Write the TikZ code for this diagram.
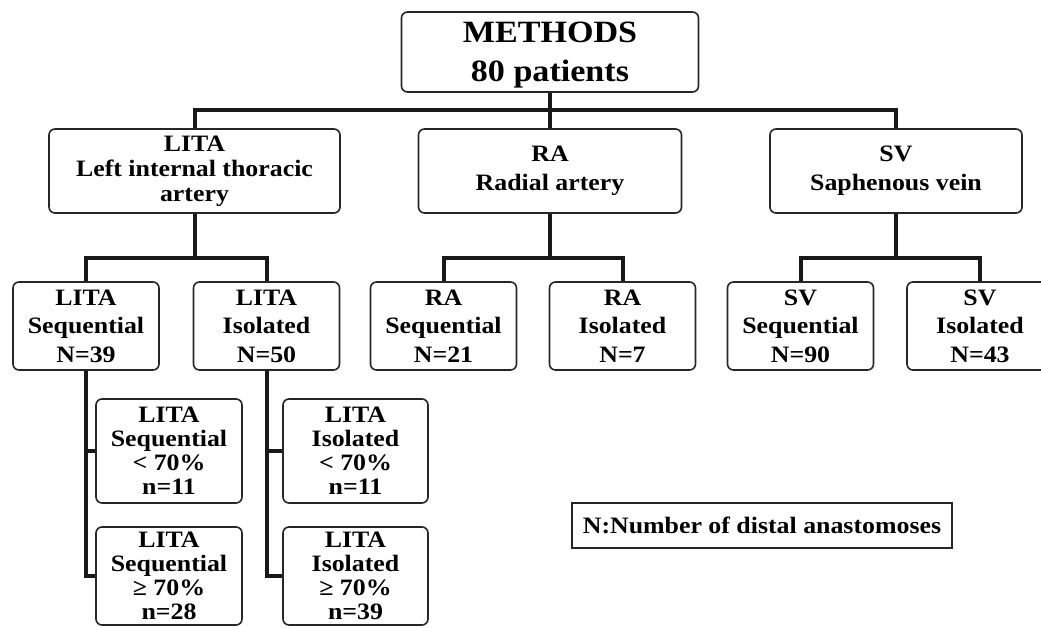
\documentclass[tikz,border=0pt]{standalone}
\usepackage{fontspec}
\setmainfont{Liberation Serif}[FakeStretch=1.1]
\begin{document}
\begin{tikzpicture}[x=1pt,y=-1pt,
  box/.style={draw=black!85, line width=1.6pt, rounded corners=6pt, fill=white, align=center, inner sep=0pt, font=\bfseries\fontsize{23.5}{25}\selectfont},
  rowbox/.style={box, minimum width=146pt, minimum height=88pt, font=\bfseries\fontsize{23.5}{28.5}\selectfont},
  subbox/.style={box, minimum width=146pt, font=\bfseries\fontsize{23.5}{24}\selectfont},
  conn/.style={draw=black!90, line width=4pt}]
\useasboundingbox (0,0) rectangle (1041,628);
\clip (0,0) rectangle (1041,628);
% nodes
\node[box, minimum width=297pt, minimum height=80pt, text depth=0pt, font=\bfseries\fontsize{31}{39}\selectfont] (M) at (550,52) {METHODS\\80 patients};
\node[box, minimum width=291pt, minimum height=84pt] (LITA) at (194.5,171) {LITA\\Left internal thoracic\\artery};
\node[box, minimum width=263pt, minimum height=84pt, font=\bfseries\fontsize{23.5}{29}\selectfont] (RA) at (550,171) {RA\\Radial artery};
\node[box, minimum width=252pt, minimum height=84pt, font=\bfseries\fontsize{23.5}{29}\selectfont] (SV) at (896,171) {SV\\Saphenous vein};
\node[rowbox] (LS) at (86,326) {LITA\\Sequential\\N=39};
\node[rowbox] (LI) at (266.5,326) {LITA\\Isolated\\N=50};
\node[rowbox] (RS) at (443.5,326) {RA\\Sequential\\N=21};
\node[rowbox] (RI) at (622.5,326) {RA\\Isolated\\N=7};
\node[rowbox] (SS) at (800.5,326) {SV\\Sequential\\N=90};
\node[rowbox] (SI) at (980,326) {SV\\Isolated\\N=43};
\node[subbox, minimum height=104pt] (LS1) at (169,451) {LITA\\Sequential\\< 70\%\\n=11};
\node[subbox, minimum height=98pt] (LS2) at (169,576) {LITA\\Sequential\\≥ 70\%\\n=28};
\node[subbox, minimum width=145pt, minimum height=104pt] (LI1) at (355.5,451) {LITA\\Isolated\\< 70\%\\n=11};
\node[subbox, minimum width=145pt, minimum height=98pt] (LI2) at (355.5,576) {LITA\\Isolated\\≥ 70\%\\n=39};
\node[draw=black!85, line width=1.2pt, minimum width=380pt, minimum height=45pt, inner sep=0pt, font=\bfseries\fontsize{23.5}{25}\selectfont] (LEG) at (762,525.5) {N:Number of distal anastomoses};
% bus coordinates
\coordinate (b1) at (550,110);
\coordinate (b2) at (194.5,258);
\coordinate (b3) at (550,258);
\coordinate (b4) at (896,258);
% connectors
\draw[conn] (M.south) -- (RA.north);
\draw[conn] (LITA.north) |- (b1) -| (SV.north);
\draw[conn] (LITA.south) -- (b2);
\draw[conn] (LS.north) |- (b2) -| (LI.north);
\draw[conn] (RA.south) -- (b3);
\draw[conn] (RS.north) |- (b3) -| (RI.north);
\draw[conn] (SV.south) -- (b4);
\draw[conn] (SS.north) |- (b4) -| (SI.north);
\draw[conn] (LS.south) |- (LS2.west);
\draw[conn] (LS.south |- LS1.west) -- (LS1.west);
\draw[conn] (LI.south) |- (LI2.west);
\draw[conn] (LI.south |- LI1.west) -- (LI1.west);
\end{tikzpicture}
\end{document}
